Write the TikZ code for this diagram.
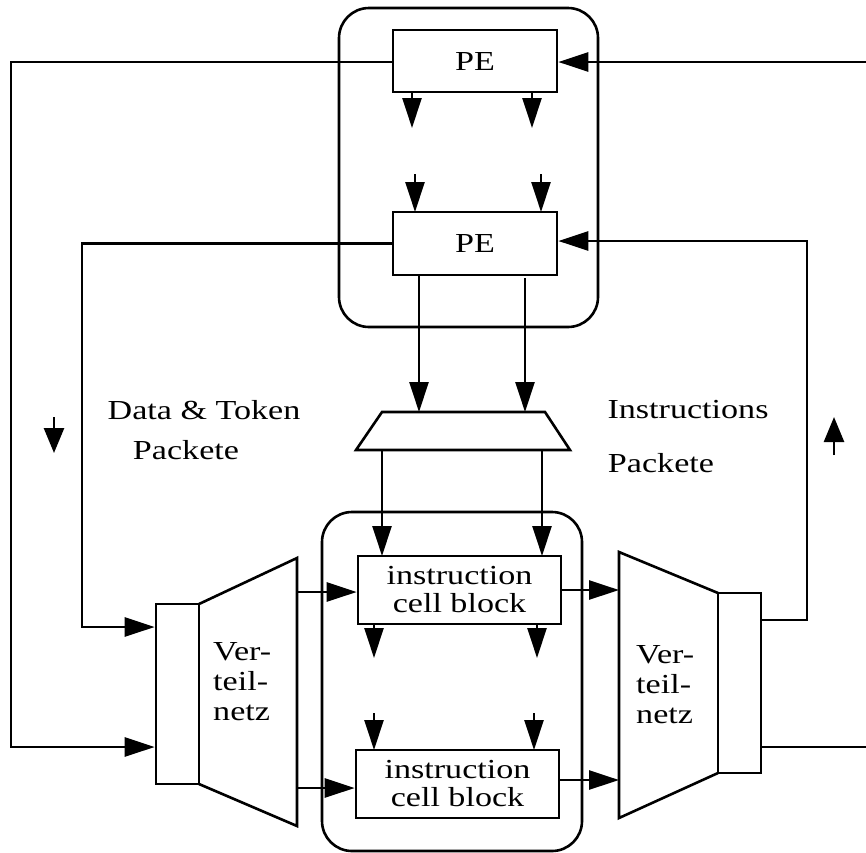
\documentclass[tikz,border=0pt]{standalone}
\usepackage{fontspec}
\setmainfont{Liberation Serif}[FakeStretch=1.24]
\usetikzlibrary{arrows.meta}
\tikzset{
  wire/.style={line width=2.6pt},
  arr/.style={wire,-{Triangle[length=30pt,width=19pt]}},
  smallarr/.style={wire,-{Triangle[length=25pt,width=20pt]}},
  blockbox/.style={draw,line width=2.6pt,rectangle,inner sep=0pt,align=center,
    font=\fontsize{27.5}{28}\selectfont},
  frame/.style={draw,line width=2.6pt,rounded corners=30pt},
  lbl/.style={font=\fontsize{27.5}{30}\selectfont,inner sep=0pt},
}
\begin{document}
\begin{tikzpicture}[x=1pt,y=-1pt]
\useasboundingbox (0,0) rectangle (866,852);

% rounded frames
\draw[frame] (339,8) rectangle (598,327);
\draw[frame] (322,512) rectangle (582,851);

% processing elements
\node[blockbox,minimum width=164pt,minimum height=62pt] (pe1) at (475,61) {PE};
\node[blockbox,minimum width=164pt,minimum height=63pt] (pe2) at (475,243.5) {PE};

% instruction cell blocks
\node[blockbox,minimum width=203pt,minimum height=68pt] (icb1) at (459.5,590) {instruction\\cell block};
\node[blockbox,minimum width=203pt,minimum height=68pt] (icb2) at (457.5,784) {instruction\\cell block};

% distribution networks
\node[blockbox,minimum width=43pt,minimum height=180pt] (lrect) at (177.5,694) {};
\node[blockbox,minimum width=43pt,minimum height=180pt] (rrect) at (739.5,683) {};
\draw[wire] (199,604) -- (297,558) -- (297,826) -- (199,784);
\draw[wire] (718,593) -- (619,552) -- (619,818) -- (718,773);
% base anchor of a multi-line node sits on its last line
\node[lbl,align=left,anchor=base west] (lnet) at (213,720) {Ver-\\teil-\\netz};
\node[lbl,align=left,anchor=base west] (rnet) at (636,723) {Ver-\\teil-\\netz};

% multiplexer
\coordinate (mtl) at (382,412);
\coordinate (mtr) at (545,412);
\coordinate (mbr) at (570,450);
\coordinate (mbl) at (356,450);
\draw[wire] (mtl) -- (mtr) -- (mbr) -- (mbl) -- cycle;

% labels
\node[lbl] (dtp1) at (204,410) {Data \& Token};
\node[lbl] (dtp2) at (186,450) {Packete};
\node[lbl] (ip1) at (688,410) {Instructions};
\node[lbl] (ip2) at (661,463) {Packete};

% arrows between the PEs
\draw[arr] (412,92) -- (412,128);
\draw[arr] (532,92) -- (532,128);
\draw[arr] (415,174) -- (415,212);
\draw[arr] (541,174) -- (541,212);

% PE outputs into the multiplexer
\draw[arr] (419,275) -- (mtl -| 419,0);
\draw[arr] (525,278) -- (mtl -| 525,0);

% multiplexer into the instruction cell blocks
\draw[arr] (mbl -| 382,0) -- (382,556);
\draw[arr] (mbl -| 542,0) -- (542,556);

% arrows between the instruction cell blocks
\draw[arr] (374,624) -- (374,658);
\draw[arr] (537,624) -- (537,658);
\draw[arr] (374,713) -- (374,750);
\draw[arr] (534,713) -- (534,750);

% left network into the blocks
\draw[arr] (297,592) -- (icb1.west |- 0,592);
\draw[arr] (297,788) -- (icb2.west |- 0,788);

% blocks into the right network
\draw[arr] (icb1.east) -- (619,590);
\draw[arr] (icb2.east |- 0,780) -- (619,780);

% feedback loops, left side
\coordinate (l1a) at (11,62);
\coordinate (l1b) at (11,747);
\draw[arr] (pe1.west |- l1a) -- (l1a) -- (l1b) -- (lrect.west |- l1b);
\coordinate (l2a) at (82,243.5);
\coordinate (l2b) at (82,627);
\draw[arr] (pe2.west) -- (l2a) -- (l2b) -- (lrect.west |- l2b);

% feedback loops, right side
\coordinate (r1) at (866,62);
\draw[arr] (r1) -- (pe1.east |- r1);
\coordinate (r2a) at (807,620);
\coordinate (r2b) at (807,241);
\draw[arr] (rrect.east |- r2a) -- (r2a) -- (r2b) -- (pe2.east |- r2b);
\coordinate (r3) at (866,747);
\draw[wire] (rrect.east |- r3) -- (r3);

% direction markers
\draw[smallarr] (54,417) -- (54,453);
\draw[smallarr] (834,455) -- (834,417);
\end{tikzpicture}
\end{document}
